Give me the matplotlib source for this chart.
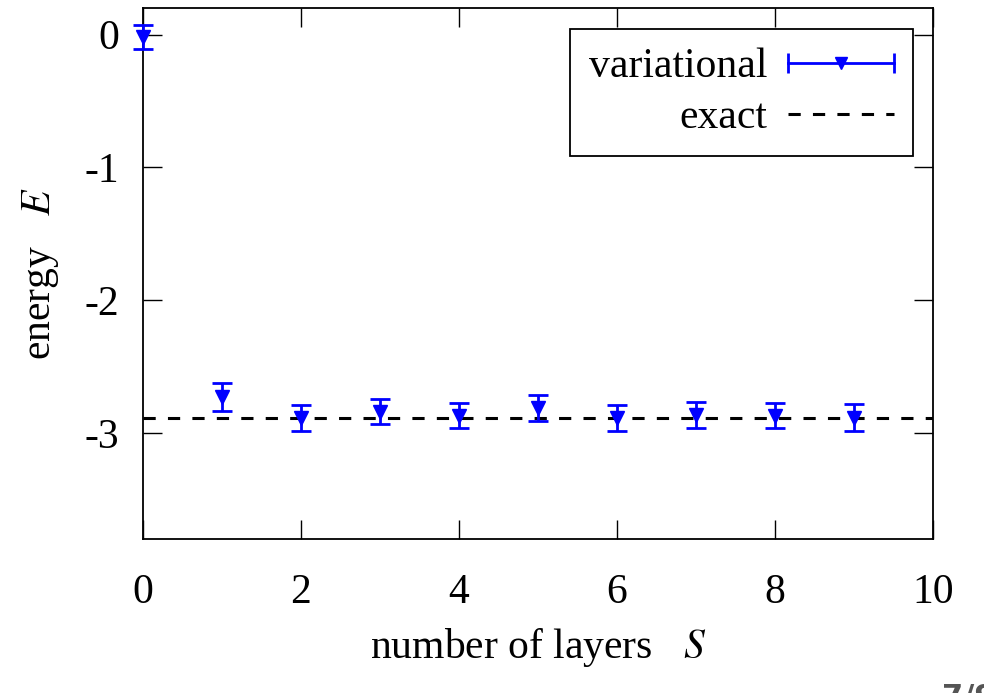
import numpy as np
import matplotlib
matplotlib.use("Agg")
import matplotlib.pyplot as plt
from matplotlib.lines import Line2D
from matplotlib.legend_handler import HandlerLine2D

# data
layers = [0, 1, 2, 3, 4, 5, 6, 7, 8, 9]
energy = [-0.02, -2.73, -2.89, -2.84, -2.87, -2.815, -2.885, -2.867, -2.871, -2.885]
energy_err = [0.09, 0.105, 0.10, 0.097, 0.096, 0.099, 0.098, 0.099, 0.096, 0.10]
exact_energy = -2.89
xticks = [0, 2, 4, 6, 8, 10]
yticks = [0, -1, -2, -3]

plt.rcParams['font.family'] = ['Liberation Serif', 'DejaVu Serif']
plt.rcParams['mathtext.fontset'] = 'stix'
fs = 30

fig = plt.figure(figsize=(9.84, 6.93), dpi=100)
ax = fig.add_axes([0.1453, 0.2222, 0.8029, 0.7663])

ax.plot([0, 10], [exact_energy, exact_energy], color='black', lw=2.2,
        dashes=(4, 4), zorder=2)
ax.errorbar(layers, energy, yerr=energy_err, fmt='v', color='blue',
            ecolor='blue', elinewidth=2, capsize=7, capthick=2,
            markersize=10.5, clip_on=False, zorder=3)

ax.set_xlim(0, 10)
ax.set_ylim(-3.8, 0.2)
ax.set_xticks(xticks)
ax.set_yticks(yticks)
ax.set_xticklabels([str(t) for t in xticks])
ax.set_yticklabels([str(t) for t in yticks])
ax.tick_params(direction='in', length=14, width=1, top=True, right=True,
               labelsize=fs)
ax.tick_params(axis='x', pad=25)
ax.tick_params(axis='y', pad=17)
for sp in ax.spines.values():
    sp.set_linewidth(1.3)

ax.set_xlabel('number of layers   $S$', fontsize=fs)
ax.xaxis.set_label_coords(0.5, -0.205)
ax.xaxis.label.set_va('center')
ax.set_ylabel('energy   $E$', fontsize=fs)
ax.yaxis.set_label_coords(-0.13, 0.5)
ax.yaxis.label.set_va('center')

# legend: gnuplot style errorbar sample
bar_h = Line2D([], [], color='blue', lw=2, marker='|', markersize=14, mew=2)
tri_h = Line2D([], [], color='blue', ls='none', marker='v', markersize=9)
exact_h = Line2D([], [], color='black', lw=2.2, dashes=(4, 4))
leg = ax.legend([(bar_h, tri_h), exact_h], ['variational', 'exact'],
                handler_map={bar_h: HandlerLine2D(numpoints=2, marker_pad=0),
                             tri_h: HandlerLine2D(numpoints=1)},
                loc='upper right', bbox_to_anchor=(0.9747, 0.9605),
                borderaxespad=0, markerfirst=False, fontsize=fs,
                handlelength=2.55, handletextpad=0.5, labelspacing=0.3,
                borderpad=0.45, fancybox=False, framealpha=1)
leg.get_frame().set_edgecolor('black')
leg.get_frame().set_linewidth(1.3)

# slide page number, cut at the edge
fig.text(942 / 984, 1 - 683 / 693, '7/9', color='#555555', fontsize=22,
         family='DejaVu Sans', fontweight='bold', va='top', ha='left')

fig.savefig('out.png', dpi=100)
